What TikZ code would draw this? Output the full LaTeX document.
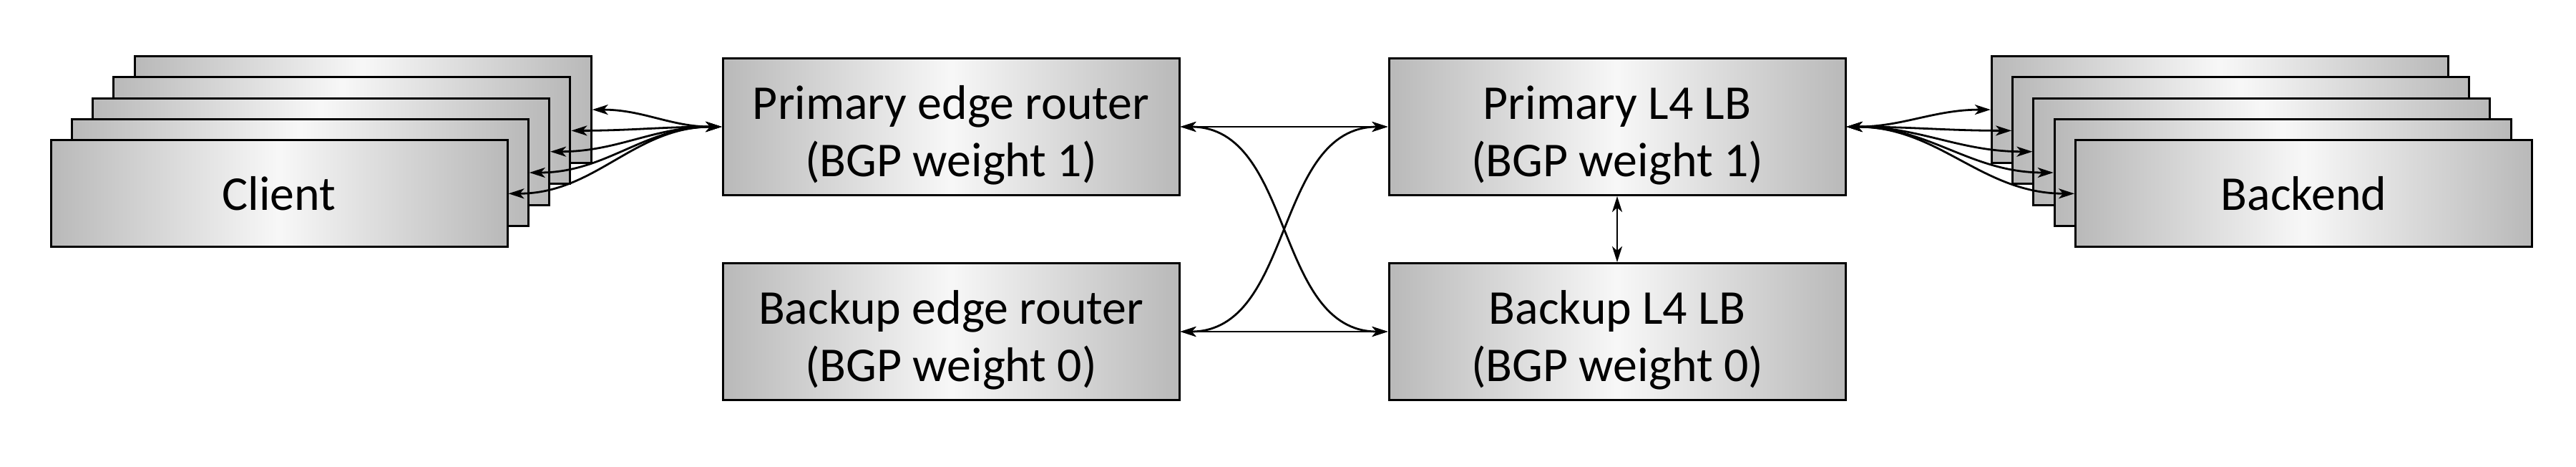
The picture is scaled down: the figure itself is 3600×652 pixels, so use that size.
\documentclass[tikz,border=0pt]{standalone}
\usepackage{fontspec}
\setmainfont{Carlito}
\usetikzlibrary{arrows.meta}

\begin{document}
\begin{tikzpicture}[x=0.1mm,y=0.1mm,yscale=-1,xscale=1,
  >={Stealth[length=2.2mm,width=1.4mm,inset=0.6mm]},
  box/.style={draw=black,line width=0.3mm,left color=gray!55,right color=gray!55,middle color=gray!6,minimum width=63.8mm,inner sep=0pt},
  stackbox/.style={box,minimum height=14.9mm},
  unitbox/.style={box,minimum height=19.1mm},
  label text/.style={inner sep=0pt,align=center,font=\fontsize{19.3pt}{22.9pt}\selectfont},
  link/.style={line width=0.28mm,<->}]
%set diagram left start at 0, and has height of 652
\useasboundingbox (0,0) rectangle (3600,652);

%Shape: Rectangle (client stack, back to front)
\node [stackbox] (client5) at (507.2,153.1) {};
%Shape: Rectangle
\node [stackbox] (client4) at (477.9,182.4) {};
%Shape: Rectangle
\node [stackbox] (client3) at (448.6,211.7) {};
%Shape: Rectangle
\node [stackbox] (client2) at (419.3,241) {};
%Shape: Rectangle
\node [stackbox] (client1) at (390,270.3) {};

%Shape: Rectangle (backend stack, back to front)
\node [stackbox] (backend5) at (3102.3,153.1) {};
%Shape: Rectangle
\node [stackbox] (backend4) at (3131.6,182.4) {};
%Shape: Rectangle
\node [stackbox] (backend3) at (3160.9,211.7) {};
%Shape: Rectangle
\node [stackbox] (backend2) at (3190.2,241) {};
%Shape: Rectangle
\node [stackbox] (backend1) at (3219.5,270.3) {};

%Shape: Rectangle
\node [unitbox] (edgeP) at (1329,177) {};
%Shape: Rectangle
\node [unitbox] (edgeB) at (1329,463) {};
%Shape: Rectangle
\node [unitbox] (lbP) at (2260,177) {};
%Shape: Rectangle
\node [unitbox] (lbB) at (2260,463) {};

% Text Node
\node [label text] (clientText) at (client1.center) {Client};
% Text Node
\node [label text] (backendText) at (backend1.center) {Backend};
% Text Node
\node [label text] (edgePText) at ([yshift=1.2mm]edgeP.center) {Primary edge router\\(BGP weight 1)};
% Text Node
\node [label text] (edgeBText) at ([yshift=1.2mm]edgeB.center) {Backup edge router\\(BGP weight 0)};
% Text Node
\node [label text] (lbPText) at ([yshift=1.2mm]lbP.center) {Primary L4 LB\\(BGP weight 1)};
% Text Node
\node [label text] (lbBText) at ([yshift=1.2mm]lbB.center) {Backup L4 LB\\(BGP weight 0)};

% Connection
\draw [link] (edgeP.west) to [out=180,in=0] (client5.east);
\draw [link] (edgeP.west) to [out=180,in=0] (client4.east);
\draw [link] (edgeP.west) to [out=180,in=0] (client3.east);
\draw [link] (edgeP.west) to [out=180,in=0] (client2.east);
\draw [link] (edgeP.west) to [out=180,in=0] (client1.east);
% Connection
\draw [link] (edgeP) -- (lbP);
\draw [link] (edgeB) -- (lbB);
\draw [link] (edgeP.east) to [out=0,in=180] (lbB.west);
\draw [link] (edgeB.east) to [out=0,in=180] (lbP.west);
\draw [link] (lbP) -- (lbB);
% Connection
\draw [link] (lbP.east) to [out=0,in=180] (backend5.west);
\draw [link] (lbP.east) to [out=0,in=180] (backend4.west);
\draw [link] (lbP.east) to [out=0,in=180] (backend3.west);
\draw [link] (lbP.east) to [out=0,in=180] (backend2.west);
\draw [link] (lbP.east) to [out=0,in=180] (backend1.west);

\end{tikzpicture}
\end{document}
